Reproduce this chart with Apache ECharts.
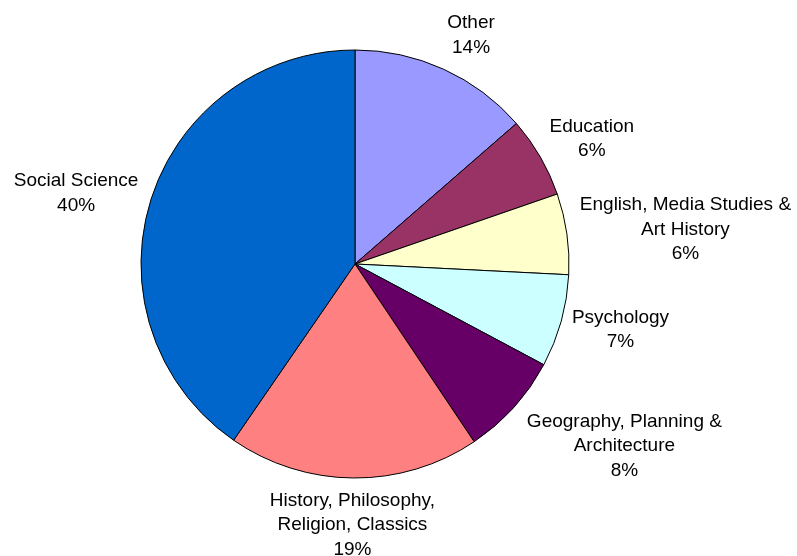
<!DOCTYPE html>
<html>
<head>
<meta charset="utf-8">
<script src="https://cdn.jsdelivr.net/npm/echarts@6/dist/echarts.min.js"></script>
<style>html,body{margin:0;padding:0;background:#fff}#c{width:797px;height:556px}</style>
</head>
<body>
<div id="c"></div>
<script>
var categories = ['Other', 'Education', 'English, Media Studies &\nArt History', 'Psychology', 'Geography, Planning &\nArchitecture', 'History, Philosophy,\nReligion, Classics', 'Social Science'];
var values = [13.6, 6.1, 6.1, 7.0, 7.8, 19.0, 40.4];
var colors = ['#9999FF', '#993366', '#FFFFCC', '#CCFFFF', '#660066', '#FF8080', '#0066CC'];

var CX = 355, CY = 264, R = 214, GAP = 5;
// fine label nudges (layout only) to mimic the original placement
var LABEL_NUDGE = [[12, 0], [5, 9], [5, 12], [3, -7], [35, -30], [-1, 5], [-6, 14]];
var total = values.reduce(function(a, b){ return a + b; }, 0);
var mids = [];
(function(){ var acc = 0; for (var i = 0; i < values.length; i++) { mids.push((acc + values[i] / 2) / total * 2 * Math.PI); acc += values[i]; } })();

var chart = echarts.init(document.getElementById('c'), null, {renderer: 'canvas'});
chart.setOption({
  backgroundColor: '#fff',
  animation: false,
  series: [{
    type: 'pie',
    center: [CX, CY],
    radius: [0, R],
    startAngle: 90,
    clockwise: true,
    avoidLabelOverlap: false,
    data: categories.map(function(c, i){ return {name: c, value: values[i], itemStyle: {color: colors[i]}}; }),
    itemStyle: {borderColor: '#000', borderWidth: 1},
    label: {
      show: true,
      position: 'outside',
      formatter: function(p){ return p.name + '\n' + Math.round(p.value / total * 100) + '%'; },
      fontFamily: 'Liberation Sans, Arial, sans-serif',
      fontSize: 19,
      lineHeight: 24.5,
      color: '#000',
      align: 'center'
    },
    labelLine: {show: false},
    labelLayout: function(params){
      var i = params.dataIndex;
      var a = mids[i];
      var s = Math.sin(a), c = Math.cos(a);
      var w = params.labelRect.width, h = params.labelRect.height;
      var d = R + GAP + (w / 2) * Math.abs(s) + (h / 2) * Math.abs(c);
      return {x: CX + d * s + LABEL_NUDGE[i][0], y: CY - d * c + LABEL_NUDGE[i][1], align: 'center', verticalAlign: 'middle'};
    },
    emphasis: {disabled: true}
  }]
});
</script>
</body>
</html>
